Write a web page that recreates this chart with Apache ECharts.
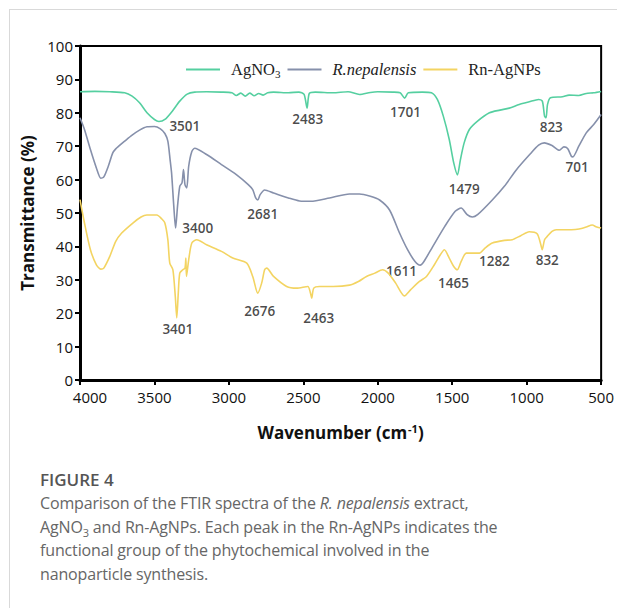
<!DOCTYPE html>
<html>
<head>
<meta charset="utf-8">
<script src="https://cdn.jsdelivr.net/npm/echarts@6/dist/echarts.min.js"></script>
<style>
  html, body { margin: 0; padding: 0; background: #fff; }
  body { width: 617px; height: 608px; position: relative; overflow: hidden; }
  #frame { position: absolute; left: 9px; top: 9px; right: -2px; bottom: -2px;
           border-top: 1px solid #d9d9d9; border-left: 1px solid #d9d9d9; }
  #chart { position: absolute; left: 0; top: 0; width: 617px; height: 460px; }
  #caption { position: absolute; left: 40px; top: 468px; font-family: "Open Sans", "Noto Sans", sans-serif;
             color: #666; white-space: nowrap; }
  #caption .fig { font-size: 17px; font-weight: 600; color: #555; line-height: 24px; }
  #caption .txt { font-size: 16px; line-height: 23.5px; letter-spacing: -0.15px; }
  #caption sub { font-size: 11px; line-height: 0; }
</style>
</head>
<body>
<div id="frame"></div>
<div id="chart"></div>
<div id="caption">
  <div class="fig">FIGURE 4</div>
  <div class="txt">Comparison of the FTIR spectra of the <i>R. nepalensis</i> extract,<br>AgNO<sub>3</sub> and Rn-AgNPs. Each peak in the Rn-AgNPs indicates the<br>functional group of the phytochemical involved in the<br>nanoparticle synthesis.</div>
</div>
<script>
// FTIR spectra: wavenumber (cm-1) and transmittance (%)
const agno3Wn = [4000, 3900, 3800, 3700, 3650, 3600, 3550, 3500, 3470, 3430, 3380, 3330, 3280, 3230, 3150, 3050,
  2980, 2950, 2920, 2890, 2860, 2830, 2800, 2770, 2740, 2700, 2600, 2530, 2495, 2475, 2460, 2420, 2300, 2200,
  2123, 2050, 2000, 1900, 1850, 1820, 1795, 1700, 1640, 1600, 1560, 1520, 1490, 1465, 1445, 1420, 1385, 1330,
  1250, 1180, 1117, 1050, 983, 920, 895, 880, 870, 860, 840, 760, 715, 650, 600, 550, 500];
const agno3T = [86.3, 86.4, 86.3, 86.0, 85.0, 83.0, 80.0, 78.0, 77.4, 78.0, 80.5, 83.5, 85.6, 86.2, 86.3, 86.2,
  86.0, 85.2, 85.9, 85.0, 85.9, 85.1, 85.8, 85.3, 86.0, 86.2, 86.0, 86.2, 85.5, 81.4, 85.8, 86.2, 86.0, 86.3,
  85.5, 86.1, 86.3, 86.2, 86.0, 84.4, 86.0, 86.2, 86.0, 84.0, 79.0, 72.0, 65.0, 61.4, 66.0, 71.0, 75.0, 77.5,
  80.0, 80.8, 81.4, 82.5, 83.3, 84.0, 83.5, 79.0, 78.5, 82.5, 84.5, 84.8, 85.3, 85.2, 85.8, 86.0, 86.4];

const extractWn = [4000, 3970, 3930, 3890, 3860, 3840, 3810, 3780, 3760, 3740, 3700, 3650, 3600, 3550, 3500, 3460,
  3430, 3410, 3395, 3385, 3370, 3358, 3345, 3330, 3315, 3305, 3295, 3283, 3270, 3250, 3230, 3150, 3050, 2950,
  2870, 2840, 2820, 2806, 2790, 2760, 2700, 2600, 2525, 2450, 2324, 2190, 2123, 2050, 1988, 1921, 1854, 1800,
  1750, 1715, 1690, 1633, 1550, 1480, 1440, 1400, 1365, 1330, 1231, 1150, 1070, 980, 920, 882, 830, 780, 750,
  725, 700, 690, 650, 600, 550, 500];
const extractT = [78.5, 75.0, 69.0, 63.5, 60.4, 60.8, 64.0, 68.0, 69.2, 70.0, 71.5, 73.3, 74.8, 75.8, 75.9, 75.2,
  73.8, 71.5, 66.0, 62.0, 52.0, 45.5, 52.0, 58.0, 59.0, 63.0, 58.5, 57.5, 64.0, 68.3, 69.4, 67.5, 64.5, 61.5,
  58.5, 57.0, 54.5, 53.9, 55.5, 56.9, 56.0, 54.5, 53.6, 53.5, 54.5, 55.7, 55.7, 55.0, 53.9, 50.9, 44.0, 39.0,
  35.5, 34.4, 35.5, 39.8, 46.0, 50.5, 51.5, 49.5, 48.8, 49.5, 53.9, 58.0, 62.9, 67.5, 70.3, 71.0, 70.2, 68.8, 69.8,
  69.3, 67.0, 66.8, 70.0, 74.0, 76.5, 79.5];

const nanoWn = [4000, 3970, 3930, 3890, 3860, 3840, 3800, 3760, 3720, 3645, 3590, 3551, 3484, 3450, 3430, 3410,
  3397, 3376, 3360, 3350, 3340, 3330, 3310, 3295, 3289, 3285, 3270, 3249, 3216, 3150, 3050, 2974, 2880, 2840,
  2806, 2780, 2760, 2746, 2700, 2612, 2545, 2470, 2452, 2444, 2430, 2391, 2300, 2190, 2130, 2076, 2020, 1968,
  1930, 1880, 1821, 1780, 1720, 1673, 1620, 1580, 1553, 1520, 1490, 1466, 1440, 1405, 1318, 1280, 1231, 1150,
  1097, 1040, 983, 930, 905, 896, 880, 862, 830, 802, 700, 648, 600, 560, 530, 500];
const nanoT = [54.0, 47.0, 39.0, 34.5, 33.2, 33.5, 37.0, 41.5, 44.0, 47.0, 48.8, 49.4, 49.4, 48.2, 47.0, 42.0,
  35.0, 33.0, 25.0, 18.6, 26.0, 32.0, 33.0, 33.5, 36.5, 31.0, 36.0, 41.0, 42.0, 40.5, 38.5, 36.5, 35.0, 31.0,
  26.0, 29.0, 33.0, 33.5, 31.0, 28.0, 27.5, 28.0, 26.0, 24.5, 27.5, 28.0, 28.0, 28.4, 29.5, 31.0, 32.0, 33.0,
  32.0, 29.0, 25.2, 27.0, 29.5, 31.0, 34.5, 37.5, 39.0, 36.5, 34.0, 33.0, 35.5, 38.0, 38.0, 39.5, 41.0, 41.8,
  42.0, 43.2, 44.4, 43.8, 40.5, 39.0, 42.0, 43.0, 44.5, 45.0, 45.0, 45.2, 45.8, 46.4, 45.8, 45.5];

// Peak annotations: text, and where it sits in (wavenumber, transmittance)
const peakText = ['3501', '2483', '1701', '1479', '823', '701', '3400', '2681',
  '3401', '2676', '2463', '1611', '1465', '1282', '832'];
const peakWn = [3296, 2471, 1814, 1419, 835, 661, 3209, 2773, 3343, 2793, 2397, 1841, 1492, 1217, 862];
const peakT = [76.0, 78.1, 80.2, 57.2, 75.7, 63.8, 45.5, 49.7, 15.3, 20.7, 18.6, 32.6, 29.0, 35.6, 35.9];

const xTicks = { min: 500, max: 4000, step: 500 };
const yTicks = { min: 0, max: 100, step: 10 };

const pairs = (xs, ys) => xs.map((x, i) => [x, ys[i]]);
const tickFont = 'Open Sans';
const green = '#55cfa0', slate = '#8690ab', gold = '#f3d462';

const chart = echarts.init(document.getElementById('chart'), null, { renderer: 'svg' });
chart.setOption({
  animation: false,
  grid: { left: 80, right: 14, top: 46, bottom: 80, show: true, borderColor: '#000', borderWidth: 2 },
  legend: {
    data: ['AgNO3', 'R.nepalensis', 'Rn-AgNPs'],
    left: 181, top: 56, icon: 'rect', itemWidth: 34, itemHeight: 2, itemGap: 7,
    textStyle: {
      fontFamily: 'Liberation Serif', fontSize: 16.5, color: '#222', padding: [0, 0, 0, 6],
      rich: {
        sub: { fontFamily: 'Liberation Serif', fontSize: 11, color: '#222', padding: [8, 0, 0, 0] },
        it: { fontFamily: 'Liberation Serif', fontStyle: 'italic', fontSize: 16.5, color: '#222' }
      }
    },
    formatter: function (name) {
      if (name === 'AgNO3') return 'AgNO{sub|3}';
      if (name === 'R.nepalensis') return '{it|R.nepalensis}';
      return name;
    }
  },
  xAxis: {
    type: 'value', inverse: true, min: xTicks.min, max: xTicks.max, interval: xTicks.step,
    name: 'Wavenumber (cm{sup|-1})', nameLocation: 'middle', nameGap: 43,
    nameTextStyle: {
      fontFamily: tickFont, fontSize: 17, fontWeight: 'bold', color: '#111',
      rich: { sup: { fontFamily: tickFont, fontSize: 11, fontWeight: 'bold', color: '#111', padding: [0, 0, 8, 1] } }
    },
    axisLine: { show: true, lineStyle: { color: '#000', width: 3 } },
    axisTick: { show: true, length: 5, lineStyle: { color: '#000', width: 2 } },
    axisLabel: {
      fontFamily: tickFont, fontSize: 15, color: '#111', margin: 9,
      formatter: v => (v === xTicks.max ? '{first|' + v + '}' : String(v)),
      rich: { first: { fontFamily: tickFont, fontSize: 15, color: '#111', padding: [0, 0, 0, 20] } }
    },
    splitLine: { show: false }
  },
  yAxis: {
    type: 'value', min: yTicks.min, max: yTicks.max, interval: yTicks.step,
    name: 'Transmittance (%)', nameLocation: 'middle', nameGap: 42,
    nameTextStyle: { fontFamily: tickFont, fontSize: 17, fontWeight: 'bold', color: '#111' },
    axisLine: { show: true, lineStyle: { color: '#000', width: 3 } },
    axisTick: { show: true, length: 5, lineStyle: { color: '#000', width: 2 } },
    axisLabel: { fontFamily: tickFont, fontSize: 15, color: '#111', margin: 7 },
    splitLine: { show: false }
  },
  series: [
    { name: 'AgNO3', type: 'line', data: pairs(agno3Wn, agno3T), symbol: 'none', smooth: 0.25,
      lineStyle: { color: green, width: 1.6 }, itemStyle: { color: green } },
    { name: 'R.nepalensis', type: 'line', data: pairs(extractWn, extractT), symbol: 'none', smooth: 0.25,
      lineStyle: { color: slate, width: 1.6 }, itemStyle: { color: slate } },
    { name: 'Rn-AgNPs', type: 'line', data: pairs(nanoWn, nanoT), symbol: 'none', smooth: 0.25,
      lineStyle: { color: gold, width: 1.6 }, itemStyle: { color: gold } },
    { name: 'peaks', type: 'scatter', silent: true, symbolSize: 0,
      data: peakText.map((t, i) => ({ value: [peakWn[i], peakT[i]], name: t })),
      label: { show: true, position: 'inside', formatter: p => p.name,
               fontFamily: tickFont, fontSize: 13.5, fontWeight: 600, color: '#1a1a1a' } }
  ]
});
</script>
</body>
</html>
